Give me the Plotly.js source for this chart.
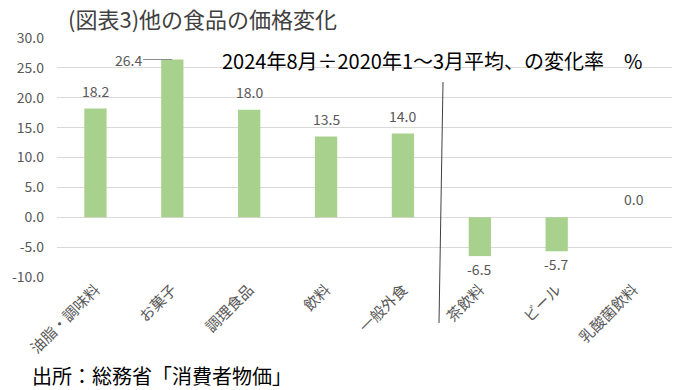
<!DOCTYPE html>
<html><head><meta charset="utf-8">
<script src="https://cdn.plot.ly/plotly-3.0.1.min.js"></script>
<style>body{margin:0;background:#fff}#chart{width:680px;height:390px}</style>
</head><body><div id="chart"></div>
<script>
const categories = ["油脂・調味料","お菓子","調理食品","飲料","一般外食","茶飲料","ビール","乳酸菌飲料"];
const values = [18.2, 26.4, 18.0, 13.5, 14.0, -6.5, -5.7, 0.0];
const yTicks = [-10, -5, 0, 5, 10, 15, 20, 25, 30];
const yTickLabels = yTicks.map(v => v.toFixed(1));
const titleText = "(図表3)他の食品の価格変化";
const noteText = "2024年8月÷2020年1～3月平均、の変化率　%";
const sourceText = "出所：総務省「消費者物価」";

const FONT = "'Noto Sans CJK JP', 'Noto Sans', sans-serif";
const GRAY = "#595959";

const annotations = values.map((v, i) => {
  const a = {x: categories[i], y: v, xref: 'x', yref: 'y', text: v.toFixed(1),
    showarrow: false, font: {family: FONT, size: 14, color: GRAY},
    yshift: v < 0 ? -13 : 18};
  if (i === 1) {
    a.showarrow = true; a.arrowhead = 0; a.arrowwidth = 1; a.arrowcolor = "#8c8c8c";
    a.ax = -44; a.ay = 0; a.yshift = 0; a.standoff = 0;
  }
  return a;
});
annotations.push({xref: 'paper', yref: 'paper', x: (220-57)/615, y: (277-61)/239,
  xanchor: 'left', yanchor: 'middle', text: noteText, showarrow: false,
  font: {family: FONT, size: 20, color: "#000"}});
annotations.push({xref: 'paper', yref: 'paper', x: (30-57)/615, y: (277-375)/239,
  xanchor: 'left', yanchor: 'middle', text: sourceText, showarrow: false,
  font: {family: FONT, size: 20, color: "#000"}});

const data = [{type: 'bar', x: categories, y: values, marker: {color: "#a9d18e"},
  hoverinfo: 'none'}];

const layout = {
  width: 680, height: 390,
  margin: {l: 57, r: 8, t: 38, b: 113},
  paper_bgcolor: "#fff", plot_bgcolor: "#fff",
  bargap: 0.71,
  showlegend: false,
  title: {text: titleText, xref: 'container', yref: 'container', x: 68/680, xanchor: 'left',
    y: 1 - 20/390, yanchor: 'middle', font: {family: FONT, size: 22, color: "#404040"}},
  xaxis: {tickangle: -45, tickfont: {family: FONT, size: 15, color: GRAY},
    showgrid: false, zeroline: false, showline: false, ticks: ''},
  yaxis: {range: [-10, 30], tickvals: yTicks, ticktext: yTickLabels,
    tickfont: {family: FONT, size: 14, color: GRAY}, gridcolor: "#d9d9d9",
    zeroline: true, zerolinecolor: "#d9d9d9", zerolinewidth: 1, showline: false,
    ticklabelstandoff: 12, fixedrange: true},
  annotations: annotations,
  shapes: [{type: 'line', xref: 'paper', yref: 'paper', x0: (443-57)/615, y0: (277-82)/239,
    x1: (439-57)/615, y1: (277-323)/239, line: {color: "#404040", width: 1}}]
};
Plotly.newPlot('chart', data, layout, {staticPlot: true});
</script></body></html>
